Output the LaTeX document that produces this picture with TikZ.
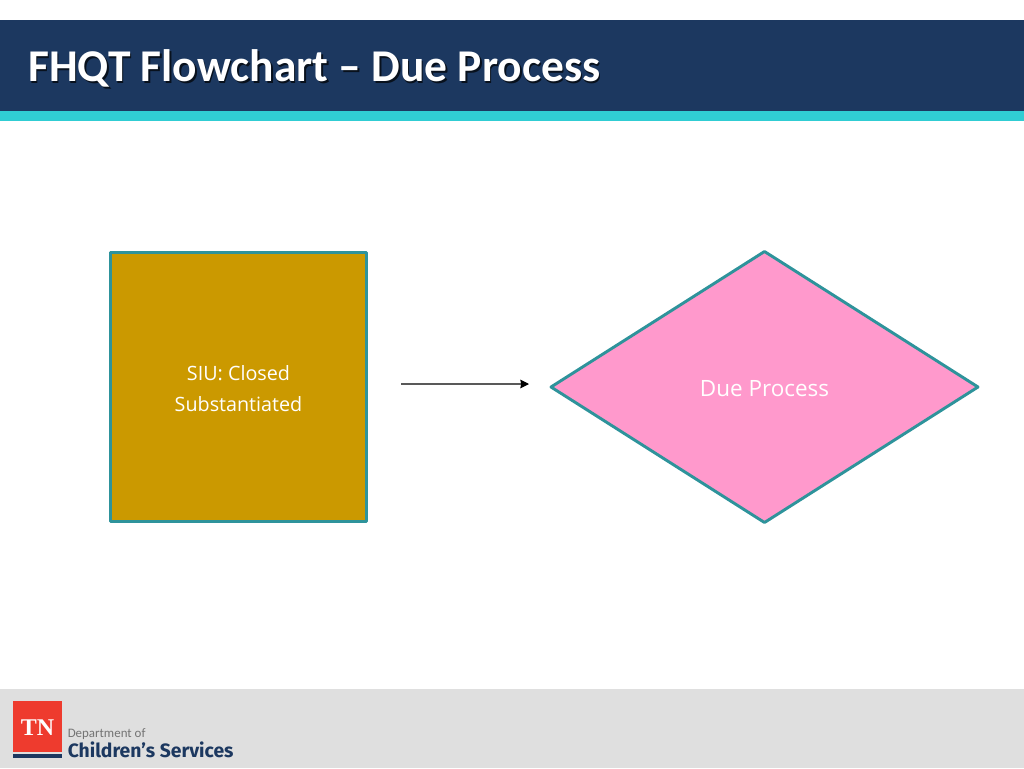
\documentclass[tikz,border=0pt]{standalone}
\usepackage{fontspec}
\setmainfont{Open Sans}
\newfontfamily\titlefont{Carlito}
\newfontfamily\logofont{Fira Sans}
\newfontfamily\sealfont{Liberation Serif}
\usetikzlibrary{shapes.geometric, arrows.meta}
\definecolor{bannerblue}{HTML}{1C3860}
\definecolor{bannerteal}{HTML}{30CDD3}
\definecolor{footgray}{HTML}{DFDFDF}
\definecolor{boxgold}{HTML}{CB9900}
\definecolor{diampink}{HTML}{FF99CC}
\definecolor{edgeteal}{HTML}{2E939B}
\definecolor{logored}{HTML}{EE3B2E}
\tikzset{
	shapeedge/.style={draw=edgeteal, line width=2.2pt},
	titletext/.style={font=\titlefont\fontsize{34.1}{40}\bfseries\selectfont, anchor=base west, inner sep=0pt},
}
\begin{document}
\begin{tikzpicture}[x=0.75pt, y=-0.75pt, line join=round]
	\useasboundingbox (0,0) rectangle (1024,768);
	% header and footer bands
	\fill[bannerblue] (0,20) rectangle (1024,111);
	\fill[bannerteal] (0,111) rectangle (1024,121);
	\fill[footgray] (0,689) rectangle (1024,768);
	\node[titletext, text=black!70!bannerblue] (titleshadow) at (29.5,83) {FHQT Flowchart – Due Process};
	\node[titletext, text=white] (title) at (28,81.5) {FHQT Flowchart – Due Process};
	% flowchart
	\node[shapeedge, fill=boxgold, rectangle, minimum width=192pt, minimum height=202.2pt, inner sep=0pt, outer sep=0pt,
		text=white, align=center, font=\fontsize{14.8}{23.25}\selectfont] (siu) at (238.5,387) {\rule{0pt}{13.5pt}SIU: Closed\\Substantiated};
	\node[shapeedge, fill=diampink, diamond, aspect=1.576, minimum width=320.25pt, minimum height=203.25pt, inner sep=0pt, outer sep=0pt,
		text=white, text height=14pt, font=\fontsize{16.85}{20}\selectfont] (due) at (764.5,387) {Due Process};
	\coordinate (arrowstart) at (401,384);
	\coordinate (arrowend) at (529,384);
	\draw[-{Stealth[length=6.5pt, width=6.5pt, inset=0.6pt, black]}, line width=0.8pt, black!65] (arrowstart) -- (arrowend);
	% logo
	\fill[logored] (13,701) rectangle (62,752);
	\fill[bannerblue] (13,754) rectangle (62,758);
	\node[text=white, inner sep=0pt, anchor=base, font=\sealfont\fontsize{18}{20}\selectfont] (tn) at (37.5,735) {\textbf{TN}};
	\node[text=black!55, inner sep=0pt, anchor=base west, font=\titlefont\fontsize{9.7}{12}\selectfont] (dept) at (67.5,737.5) {Department of};
	\node[text=bannerblue, inner sep=0pt, anchor=base west, font=\logofont\fontsize{14.5}{16}\bfseries\selectfont] (dcs) at (67.5,757) {Children’s Services};
\end{tikzpicture}
\end{document}
